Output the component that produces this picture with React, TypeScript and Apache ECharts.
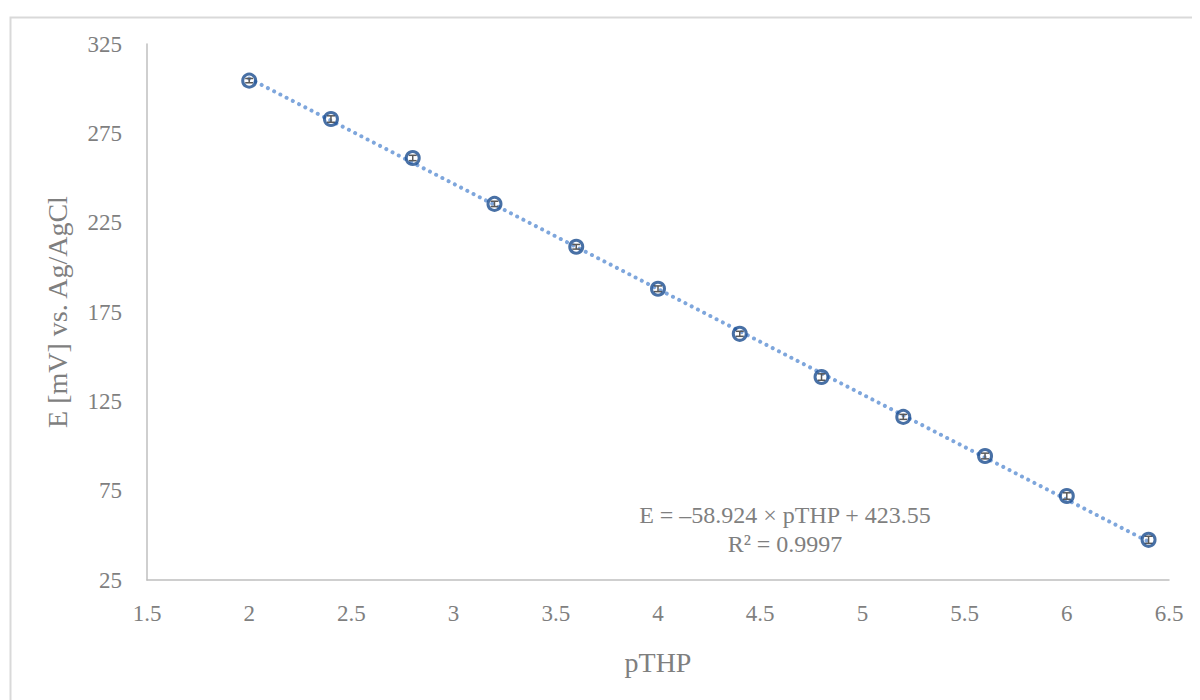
import React, { useEffect, useRef } from "react";
import * as echarts from "echarts";

const pTHP = [2, 2.4, 2.8, 3.2, 3.6, 4.0, 4.4, 4.8, 5.2, 5.6, 6.0, 6.4];
const potential = [304.5, 283, 261.2, 235.5, 211.5, 188, 162.8, 138.6, 116.3, 94.4, 72, 47.5];
const errors = [1.2, 1.8, 1.5, 1.5, 1.3, 1.6, 1.4, 1.8, 1.4, 1.6, 1.8, 2.0];
const slope = -58.924;
const intercept = 423.55;
const trendX = [2, 6.4];
const equationLines = ["E = –58.924 × pTHP + 423.55", "R² = 0.9997"];

const FONT = "'Liberation Serif', 'DejaVu Serif', serif";

export default function App() {
  const ref = useRef<HTMLDivElement>(null);
  useEffect(() => {
    if (!ref.current) return;
    const chart = echarts.init(ref.current, undefined, { renderer: "svg" });
    const scatterData = pTHP.map((x, i) => [x, potential[i]]);
    const errData = pTHP.map((x, i) => [x, potential[i], errors[i]]);
    const trendData = trendX.map((x) => [x, slope * x + intercept]);
    chart.setOption({
      animation: false,
      textStyle: { fontFamily: FONT },
      grid: { left: 139, right: 39, top: 36, bottom: 128 },
      xAxis: {
        type: "value",
        min: 1.5,
        max: 6.5,
        interval: 0.5,
        name: "pTHP",
        nameLocation: "middle",
        nameGap: 68,
        nameTextStyle: { fontFamily: FONT, fontSize: 28, color: "#7f7f7f" },
        axisLine: { show: true, lineStyle: { color: "#bfbfbf", width: 1.5 } },
        axisTick: { show: false },
        splitLine: { show: false },
        axisLabel: { fontFamily: FONT, fontSize: 23, color: "#7f7f7f", margin: 22 },
      },
      yAxis: {
        type: "value",
        min: 25,
        max: 325,
        interval: 25,
        name: "E [mV] vs. Ag/AgCl",
        nameLocation: "middle",
        nameGap: 76,
        nameTextStyle: { fontFamily: FONT, fontSize: 28, color: "#7f7f7f" },
        axisLine: { show: true, lineStyle: { color: "#bfbfbf", width: 1.5 } },
        axisTick: { show: false },
        splitLine: { show: false },
        axisLabel: {
          fontFamily: FONT,
          fontSize: 23,
          color: "#7f7f7f",
          margin: 25,
          formatter: (v: number) => ((v - 25) % 50 === 0 ? String(v) : ""),
        },
      },
      graphic: [
        {
          type: "rect",
          left: 0,
          top: 7,
          shape: { width: 1400, height: 900 },
          style: { fill: "none", stroke: "#d9d9d9", lineWidth: 2 },
          silent: true,
          z: -10,
        },
        {
          type: "text",
          x: 777,
          y: 521,
          style: {
            text: equationLines.join("\n"),
            font: `24px ${FONT}`,
            fill: "#7f7f7f",
            align: "center",
            verticalAlign: "middle",
            lineHeight: 29,
          },
        },
      ],
      series: [
        {
          type: "line",
          data: trendData,
          symbol: "none",
          lineStyle: { color: "#7ea6dc", width: 4, type: [0.01, 7], cap: "round" },
          z: 1,
        },
        {
          type: "custom",
          data: errData,
          z: 2,
          renderItem: (_p: any, api: any) => {
            const x = api.value(0);
            const y = api.value(1);
            const e = api.value(2);
            const top = api.coord([x, y + e]);
            const bot = api.coord([x, y - e]);
            const hw = 4;
            const style = { stroke: "#595959", lineWidth: 1.5 };
            return {
              type: "group",
              children: [
                { type: "line", shape: { x1: top[0], y1: top[1], x2: bot[0], y2: bot[1] }, style },
                { type: "line", shape: { x1: top[0] - hw, y1: top[1], x2: top[0] + hw, y2: top[1] }, style },
                { type: "line", shape: { x1: bot[0] - hw, y1: bot[1], x2: bot[0] + hw, y2: bot[1] }, style },
              ],
            };
          },
        },
        {
          type: "scatter",
          data: scatterData,
          symbol: "circle",
          symbolSize: 13,
          itemStyle: { color: "rgba(0,0,0,0)", borderColor: "#1a4c8f", borderWidth: 3 },
          z: 3,
        },
      ],
    });
    return () => chart.dispose();
  }, []);
  return <div ref={ref} style={{ width: 1200, height: 700 }} />;
}
